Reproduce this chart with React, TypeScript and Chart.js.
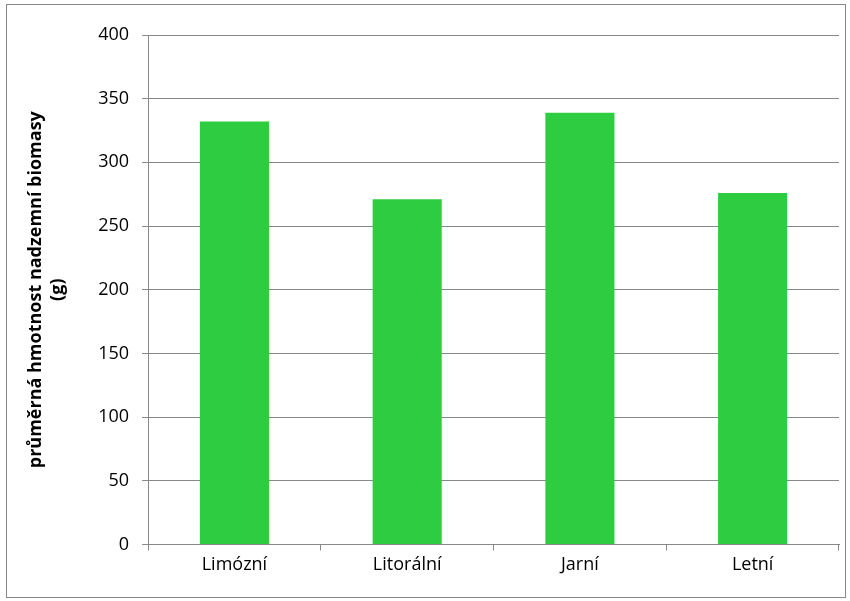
import React, { useEffect, useRef } from 'react';
import Chart from 'chart.js/auto';

const categories = ['Limózní', 'Litorální', 'Jarní', 'Letní'];
const biomass = [332, 271, 339, 276];
const yTitle = ['průměrná hmotnost nadzemní biomasy', '(g)'];

const App: React.FC = () => {
  const chartRef = useRef<HTMLCanvasElement | null>(null);

  useEffect(() => {
    document.body.style.margin = '0';
    let chart: Chart<'bar'> | null = null;
    if (chartRef.current) {
      chart = new Chart(chartRef.current, {
        type: 'bar',
        data: {
          labels: categories,
          datasets: [
            {
              data: biomass,
              backgroundColor: '#2ecc40',
              barPercentage: 0.4,
              categoryPercentage: 1,
            },
          ],
        },
        options: {
          animation: false,
          responsive: false,
          layout: { padding: { top: 30, right: 6, bottom: 17, left: 14 } },
          plugins: { legend: { display: false }, tooltip: { enabled: false } },
          scales: {
            x: {
              grid: { drawOnChartArea: false, offset: true, tickLength: 6, color: '#888' },
              border: { color: '#888' },
              ticks: { color: '#000', padding: 4, font: { family: 'Open Sans', size: 18 } },
            },
            y: {
              min: 0,
              max: 400,
              ticks: { stepSize: 50, color: '#000', padding: 13, font: { family: 'Open Sans', size: 18 } },
              grid: { color: '#888', tickLength: 6 },
              border: { color: '#888' },
              title: {
                display: true,
                text: yTitle,
                color: '#000',
                font: { family: 'Open Sans', size: 18, weight: 'bold' },
                padding: { bottom: 17 },
              },
            },
          },
        },
      });
    }
    return () => {
      if (chart) chart.destroy();
    };
  }, []);

  return (
    <div style={{ width: 850, height: 601, position: 'relative', background: '#fff' }}>
      <div
        style={{
          position: 'absolute',
          left: 6,
          top: 4,
          width: 838,
          height: 592,
          border: '1px solid #888',
        }}
      >
        <canvas ref={chartRef} width={838} height={592} />
      </div>
    </div>
  );
};

export default App;
